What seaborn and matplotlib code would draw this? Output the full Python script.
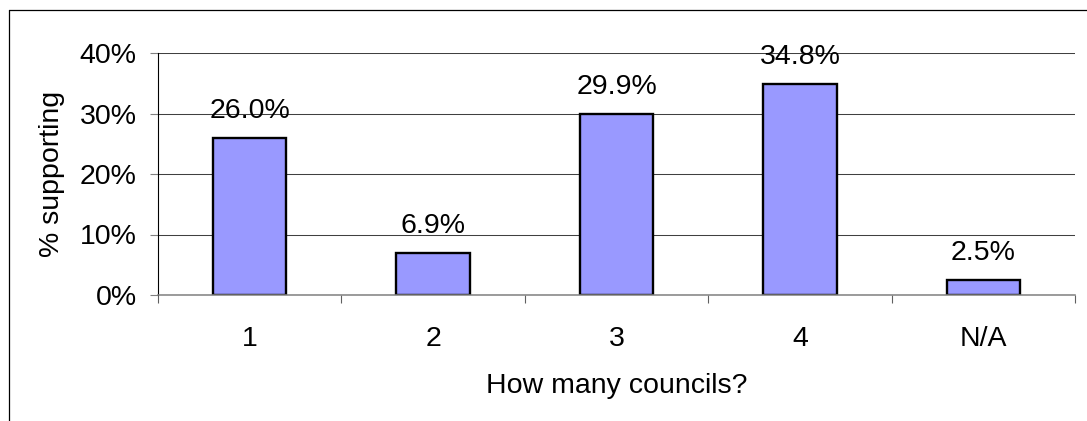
import matplotlib
matplotlib.use("Agg")
import matplotlib.pyplot as plt
from matplotlib.lines import Line2D
from matplotlib.ticker import PercentFormatter, FixedLocator
import seaborn as sns

# data
councils = ['1', '2', '3', '4', 'N/A']
support = [0.260, 0.069, 0.299, 0.348, 0.025]

W, H = 1087, 421
sns.set_theme(style="white")
plt.rcParams['font.family'] = ['Liberation Sans', 'DejaVu Sans']
fs = 20.5

fig = plt.figure(figsize=(W / 100, H / 100), dpi=100)
ax = fig.add_axes([158 / W, 1 - 295 / H, (1075 - 158) / W, (295 - 53) / H])

sns.barplot(x=councils, y=support, color='#9999FF', saturation=1,
            edgecolor='black', linewidth=1.7, width=0.4, ax=ax)

ax.set_xlim(-0.5, 4.5)
ax.set_ylim(0, 0.4)
ax.set_yticks([0, 0.1, 0.2, 0.3, 0.4])
ax.yaxis.set_major_formatter(PercentFormatter(1.0, decimals=0))
ax.grid(axis='y', color='#404040', linewidth=0.75)
ax.set_axisbelow(True)

# value labels above bars
for i, v in enumerate(support):
    ax.annotate(f"{v:.1%}", (i, v), xytext=(0, 14.4), textcoords='offset points',
                ha='center', va='baseline', fontsize=fs, color='black')

for s in ['top', 'right']:
    ax.spines[s].set_visible(False)
ax.spines['left'].set_color('black')
ax.spines['left'].set_linewidth(0.8)
ax.spines['bottom'].set_color('#808080')
ax.spines['bottom'].set_linewidth(1.1)

ax.tick_params(axis='y', left=True, length=5.8, width=0.8, color='#808080',
               pad=9.5, labelsize=fs, labelcolor='black')
ax.tick_params(axis='x', which='major', length=0, pad=22, labelsize=fs,
               labelcolor='black')
ax.xaxis.set_minor_locator(FixedLocator([-0.5, 0.5, 1.5, 2.5, 3.5, 4.5]))
ax.tick_params(axis='x', which='minor', bottom=True, length=5.8, width=0.8,
               color='#606060')

ax.set_xlabel('How many councils?', fontsize=fs, color='black', labelpad=15.7)
ax.set_ylabel('% supporting', fontsize=fs, color='black', labelpad=10.5)

# outer chart border (left and top only visible)
fig.add_artist(Line2D([8.5 / W, 8.5 / W], [0, 1 - 9.5 / H], color='black', lw=0.9))
fig.add_artist(Line2D([8.5 / W, 1], [1 - 9.5 / H, 1 - 9.5 / H], color='black', lw=0.9))

fig.savefig('out.png', dpi=100, facecolor='white')
